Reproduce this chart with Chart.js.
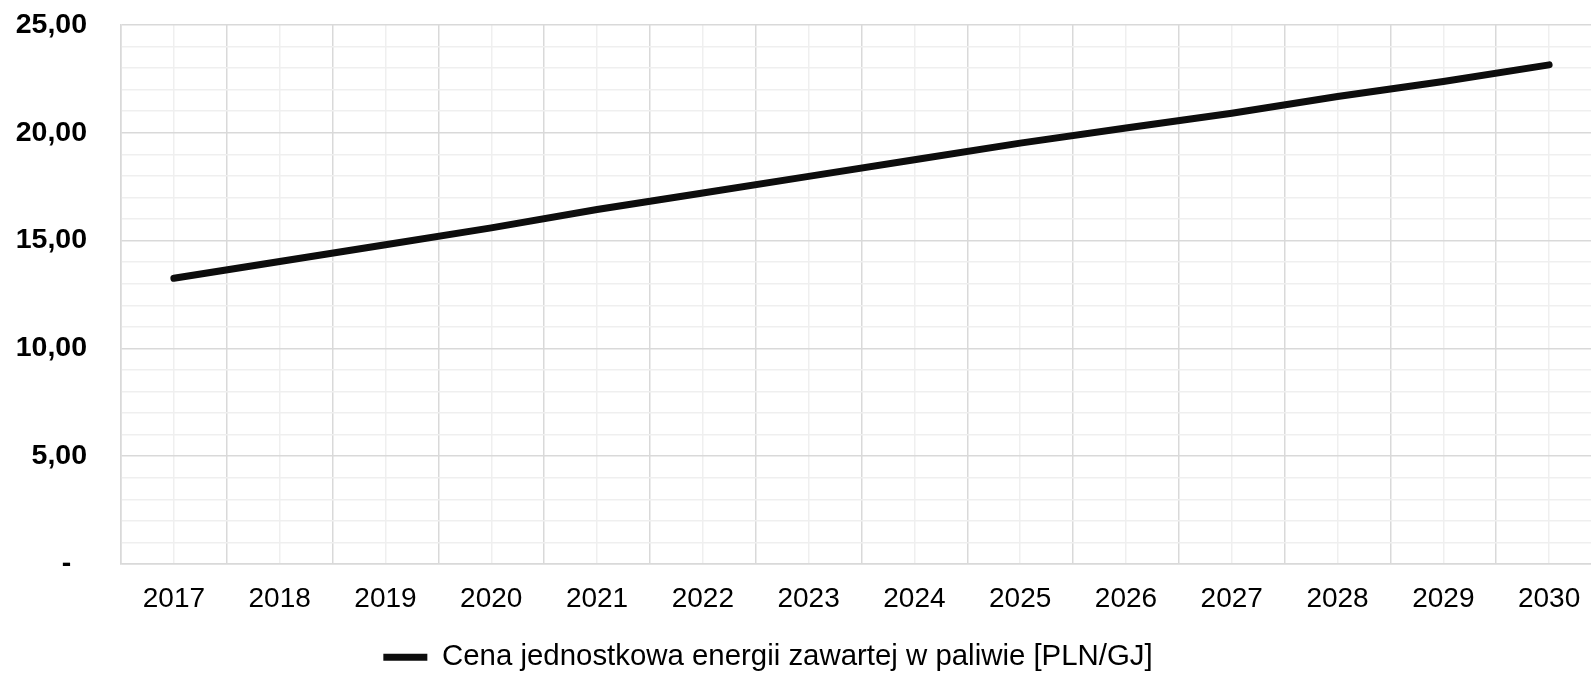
<!DOCTYPE html>
<html>
<head>
<meta charset="utf-8">
<script src="https://cdn.jsdelivr.net/npm/chart.js@4.4.0/dist/chart.umd.min.js"></script>
<style>
  html, body { margin: 0; padding: 0; background: #fff; overflow: hidden; }
  #wrap { width: 1602px; height: 682px; position: relative; }
</style>
</head>
<body>
<div id="wrap"><canvas id="chart"></canvas></div>
<script>
// years and unit energy price
const years = ['2017', '2018', '2019', '2020', '2021', '2022', '2023', '2024', '2025', '2026', '2027', '2028', '2029', '2030'];
const prices = [13.25, 14.03, 14.81, 15.59, 16.44, 17.21, 17.98, 18.75, 19.52, 20.22, 20.91, 21.68, 22.38, 23.15];
const seriesLabel = 'Cena jednostkowa energii zawartej w paliwie [PLN/GJ]';
const yMax = 25;
const yMajorStep = 5;

const FONT = "'Liberation Sans', Arial, sans-serif";
const MAJOR = '#d9d9d9';
const MINOR = '#efefef';

// excel accounting style: 0 shows as a dash
const fmt = v => v === 0 ? '-  ' : v.toFixed(2).replace('.', ',');

const legendShift = {
  id: 'legendShift',
  afterLayout(chart) {
    const lg = chart.legend;
    lg.left -= 33;
    lg.right -= 33;
  }
};

new Chart(document.getElementById('chart'), {
  type: 'line',
  data: {
    labels: years,
    datasets: [{
      label: seriesLabel,
      data: prices,
      borderColor: '#0d0d0d',
      backgroundColor: '#0d0d0d',
      borderWidth: 7,
      borderCapStyle: 'round',
      borderJoinStyle: 'round',
      pointRadius: 0,
      pointHoverRadius: 0,
      tension: 0,
      fill: false
    }]
  },
  options: {
    responsive: true,
    maintainAspectRatio: false,
    animation: false,
    layout: { padding: 0 },
    plugins: {
      title: { display: false },
      tooltip: { enabled: false },
      legend: {
        position: 'bottom',
        labels: {
          color: '#000',
          font: { family: FONT, size: 29.4 },
          usePointStyle: true,
          pointStyle: 'line',
          pointStyleWidth: 44,
          padding: 10
        }
      }
    },
    scales: {
      x: {
        type: 'category',
        offset: true,
        grid: { offset: true, color: MAJOR, lineWidth: 1.5, drawTicks: false },
        border: { color: MAJOR, width: 1.5 },
        ticks: {
          color: '#000',
          font: { family: FONT, size: 28 },
          padding: 18,
          maxRotation: 0,
          autoSkip: false
        },
        afterFit(scale) {
          scale.height -= 1;
          scale.paddingLeft = 0;
          scale.paddingRight = 0;
        }
      },
      x2: {
        type: 'category',
        labels: years,
        position: 'top',
        offset: true,
        grid: { offset: false, color: MINOR, lineWidth: 1.5, drawTicks: false },
        border: { display: false },
        ticks: { display: false },
        afterFit(scale) { scale.height = 0; }
      },
      y: {
        min: 0,
        max: yMax,
        grid: {
          drawTicks: false,
          color: c => (c.tick && c.tick.value % yMajorStep === 0) ? MAJOR : MINOR,
          lineWidth: 1.5
        },
        border: { color: MAJOR, width: 1.5 },
        ticks: {
          stepSize: 1,
          autoSkip: false,
          color: '#000',
          font: { family: FONT, size: 28.5, weight: 'bold' },
          padding: 34,
          callback: v => v % yMajorStep === 0 ? fmt(v) : ''
        },
        afterFit(scale) {
          scale.width = 121;
          scale.paddingTop = 25;
          scale.paddingBottom = 0;
        }
      }
    }
  },
  plugins: [legendShift]
});
</script>
</body>
</html>
